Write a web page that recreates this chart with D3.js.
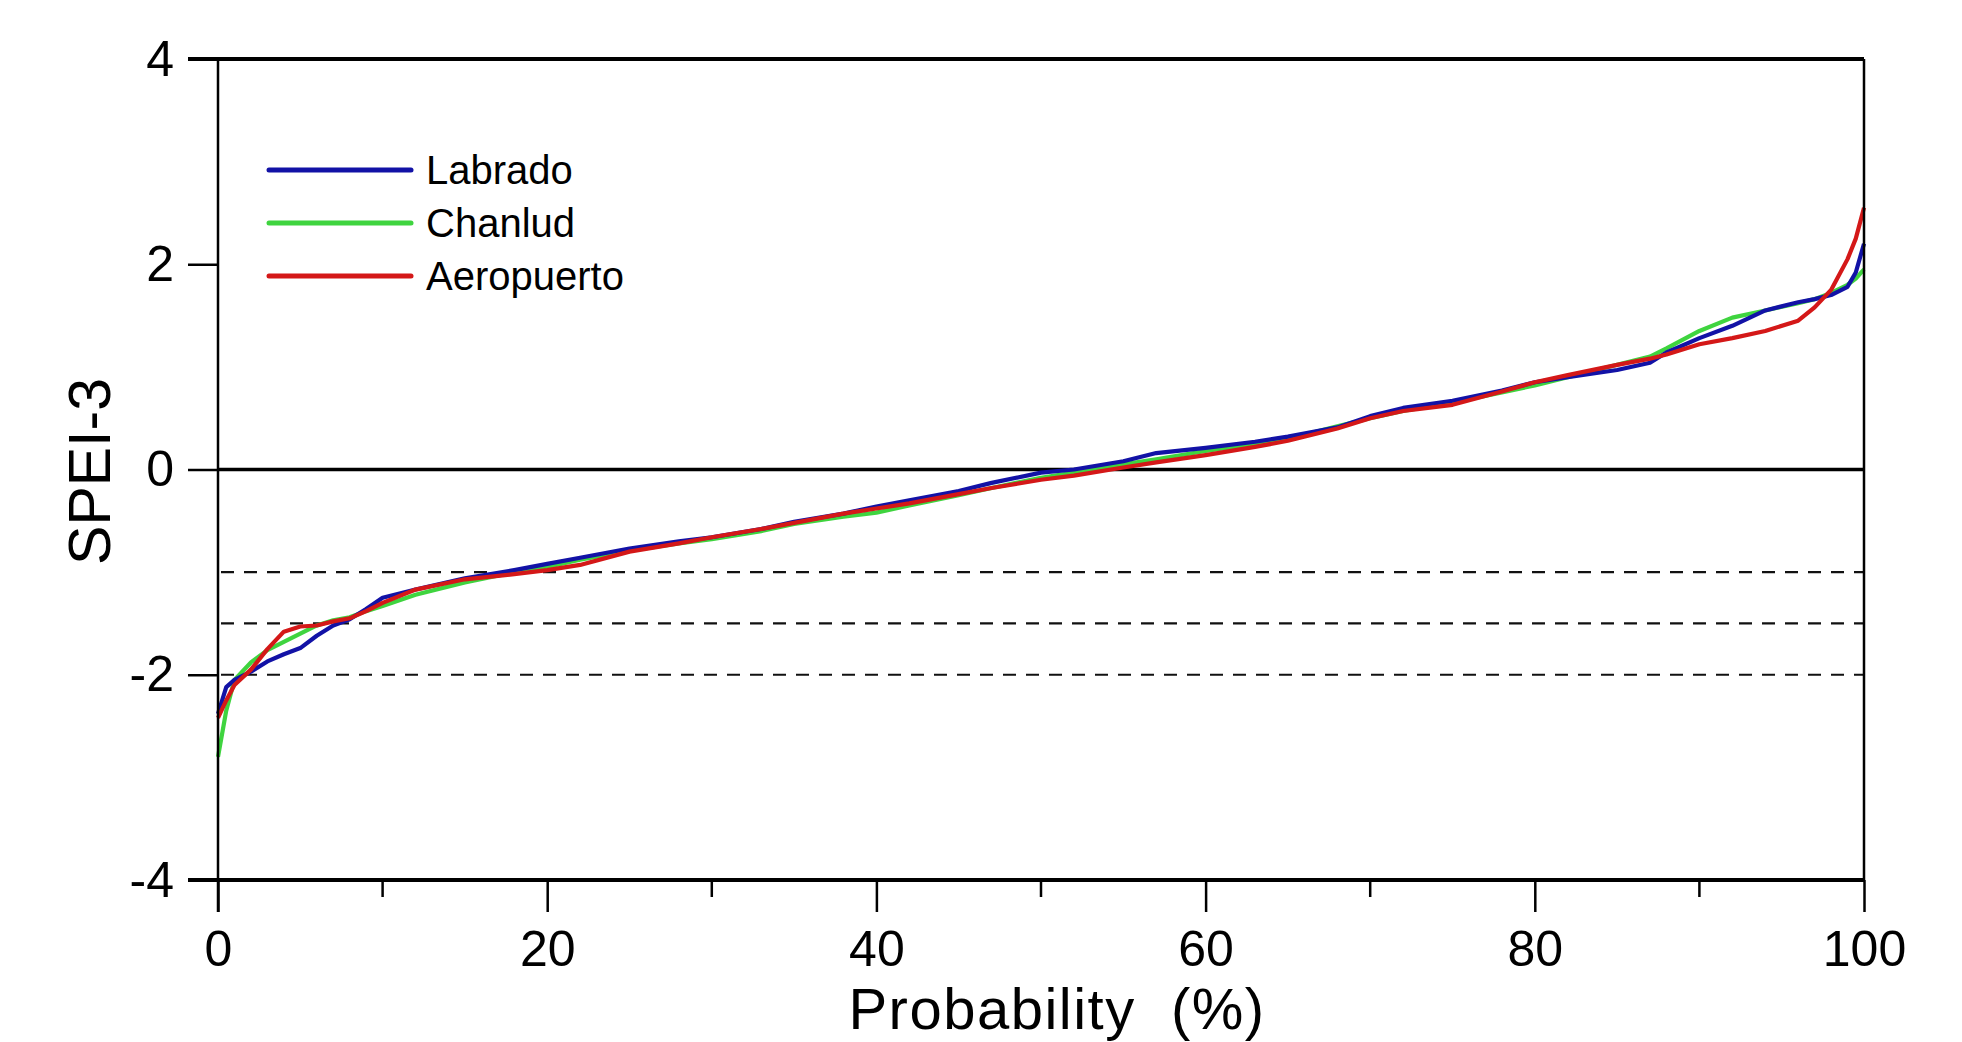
<!DOCTYPE html>
<html>
<head>
<meta charset="utf-8">
<script src="https://cdn.jsdelivr.net/npm/d3@7"></script>
<style>
  html, body { margin: 0; padding: 0; background: #fff; }
  svg { display: block; font-family: Arial, "Liberation Sans", sans-serif; }
</style>
</head>
<body>
<svg id="chart" width="1962" height="1042"></svg>
<script>
const probability = [0, 0.5, 1, 2, 3, 4, 5, 6, 7, 8, 9, 10, 12, 15, 18, 20, 22, 25, 28, 30, 33, 35, 38, 40, 42, 45, 47, 50, 52, 55, 57, 60, 63, 65, 68, 70, 72, 75, 78, 80, 82, 85, 87, 88, 90, 92, 94, 96, 97, 98, 99, 99.5, 100];

const labrado = [-2.38, -2.12, -2.05, -1.97, -1.87, -1.8, -1.74, -1.62, -1.52, -1.46, -1.36, -1.25, -1.17, -1.06, -0.98, -0.92, -0.86, -0.77, -0.7, -0.66, -0.58, -0.51, -0.43, -0.36, -0.3, -0.21, -0.13, -0.03, 0.0, 0.08, 0.16, 0.21, 0.27, 0.32, 0.41, 0.52, 0.6, 0.67, 0.77, 0.85, 0.9, 0.97, 1.04, 1.14, 1.28, 1.4, 1.55, 1.63, 1.66, 1.7, 1.78, 1.92, 2.2];

const chanlud = [-2.8, -2.35, -2.05, -1.88, -1.76, -1.68, -1.6, -1.52, -1.47, -1.44, -1.38, -1.33, -1.22, -1.1, -1.0, -0.95, -0.88, -0.79, -0.72, -0.68, -0.6, -0.53, -0.46, -0.42, -0.35, -0.25, -0.18, -0.08, -0.03, 0.05, 0.1, 0.18, 0.25, 0.3, 0.42, 0.5, 0.57, 0.65, 0.75, 0.82, 0.9, 1.02, 1.1, 1.18, 1.35, 1.48, 1.55, 1.62, 1.66, 1.72, 1.8, 1.86, 1.95];

const aeropuerto = [-2.42, -2.25, -2.1, -1.95, -1.75, -1.58, -1.53, -1.52, -1.48, -1.45, -1.38, -1.3, -1.17, -1.07, -1.02, -0.98, -0.93, -0.8, -0.72, -0.66, -0.58, -0.52, -0.43, -0.38, -0.33, -0.24, -0.18, -0.1, -0.06, 0.02, 0.07, 0.14, 0.22, 0.28, 0.4, 0.5, 0.57, 0.63, 0.76, 0.85, 0.92, 1.02, 1.08, 1.12, 1.22, 1.28, 1.35, 1.45, 1.58, 1.75, 2.05, 2.25, 2.55];

const seriesNames = ["Labrado", "Chanlud", "Aeropuerto"];
const seriesColors = ["#1212a6", "#3fd43f", "#d41818"];
const drawOrder = [1, 0, 2];

const xTicks = [0, 20, 40, 60, 80, 100];
const xMinorTicks = [10, 30, 50, 70, 90];
const yTicks = [-4, -2, 0, 2, 4];
const dashedLevels = [-1, -1.5, -2];

const series = [labrado, chanlud, aeropuerto].map((values, i) => ({
  name: seriesNames[i],
  color: seriesColors[i],
  points: values.map((v, j) => [probability[j], v]),
}));

const plot = { left: 218, right: 1864, top: 59, bottom: 880 };
const x = d3.scaleLinear().domain([0, 100]).range([plot.left, plot.right]);
const y = d3.scaleLinear().domain([-4, 4]).range([plot.bottom, plot.top]);

const svg = d3.select("#chart");

// reference lines
svg.append("line")
  .attr("x1", plot.left).attr("x2", plot.right)
  .attr("y1", y(0)).attr("y2", y(0))
  .attr("stroke", "#000").attr("stroke-width", 3.5);

svg.selectAll(".dash")
  .data(dashedLevels)
  .join("line")
  .attr("class", "dash")
  .attr("x1", plot.left + 3).attr("x2", plot.right)
  .attr("y1", (d) => y(d)).attr("y2", (d) => y(d))
  .attr("stroke", "#111").attr("stroke-width", 2.2)
  .attr("stroke-dasharray", "13,10");

// curves
const line = d3.line().x((d) => x(d[0])).y((d) => y(d[1]));
svg.append("g")
  .selectAll("path")
  .data(drawOrder.map((i) => series[i]))
  .join("path")
  .attr("d", (d) => line(d.points))
  .attr("fill", "none")
  .attr("stroke", (d) => d.color)
  .attr("stroke-width", 4.2)
  .attr("stroke-linejoin", "round");

// frame
svg.append("line").attr("x1", plot.left - 30).attr("x2", plot.right).attr("y1", plot.top).attr("y2", plot.top)
  .attr("stroke", "#000").attr("stroke-width", 4);
svg.append("line").attr("x1", plot.right).attr("x2", plot.right).attr("y1", plot.top).attr("y2", plot.bottom)
  .attr("stroke", "#000").attr("stroke-width", 2.5);

// y axis
const yAxis = d3.axisLeft(y).tickValues(yTicks).tickSize(30).tickPadding(14).tickFormat((d) => String(d));
const gy = svg.append("g").attr("transform", `translate(${plot.left},0)`).call(yAxis);
gy.select(".domain").attr("stroke-width", 2.5).attr("d", `M0,${plot.top}V${plot.bottom + 32}`);
gy.selectAll(".tick line").attr("stroke-width", 2.5);
gy.selectAll(".tick text").attr("font-size", 50).attr("font-family", "Arial, 'Liberation Sans', sans-serif").attr("fill", "#000");

// x axis
const xAxis = d3.axisBottom(x).tickValues(xTicks).tickSize(32).tickPadding(18).tickFormat((d) => String(d));
const gx = svg.append("g").attr("transform", `translate(0,${plot.bottom})`).call(xAxis);
gx.select(".domain").attr("stroke-width", 4).attr("d", `M${plot.left - 30},0H${plot.right}`);
gx.selectAll(".tick line").attr("stroke-width", 2.5);
gx.selectAll(".tick text").attr("font-size", 50).attr("font-family", "Arial, 'Liberation Sans', sans-serif").attr("fill", "#000");

gx.selectAll(".minor")
  .data(xMinorTicks)
  .join("line")
  .attr("class", "minor")
  .attr("x1", (d) => x(d)).attr("x2", (d) => x(d))
  .attr("y1", 0).attr("y2", 17)
  .attr("stroke", "#000").attr("stroke-width", 2.5);

// axis titles
svg.append("text")
  .attr("x", 1057)
  .attr("y", 1029)
  .attr("text-anchor", "middle")
  .attr("font-size", 58)
  .attr("letter-spacing", 1.5)
  .attr("fill", "#000")
  .style("white-space", "pre")
  .text("Probability  (%)");

svg.append("text")
  .attr("transform", `translate(110,${y(0) + 2}) rotate(-90)`)
  .attr("text-anchor", "middle")
  .attr("font-size", 59)
  .attr("fill", "#000")
  .text("SPEI-3");

// legend
const legend = svg.append("g")
  .selectAll("g")
  .data(series)
  .join("g")
  .attr("transform", (d, i) => `translate(269,${170 + i * 53})`);

legend.append("line")
  .attr("x1", 0).attr("x2", 142)
  .attr("stroke", (d) => d.color)
  .attr("stroke-width", 5)
  .attr("stroke-linecap", "round");

legend.append("text")
  .attr("x", 157)
  .attr("y", 14)
  .attr("font-size", 40)
  .attr("fill", "#000")
  .text((d) => d.name);
</script>
</body>
</html>
